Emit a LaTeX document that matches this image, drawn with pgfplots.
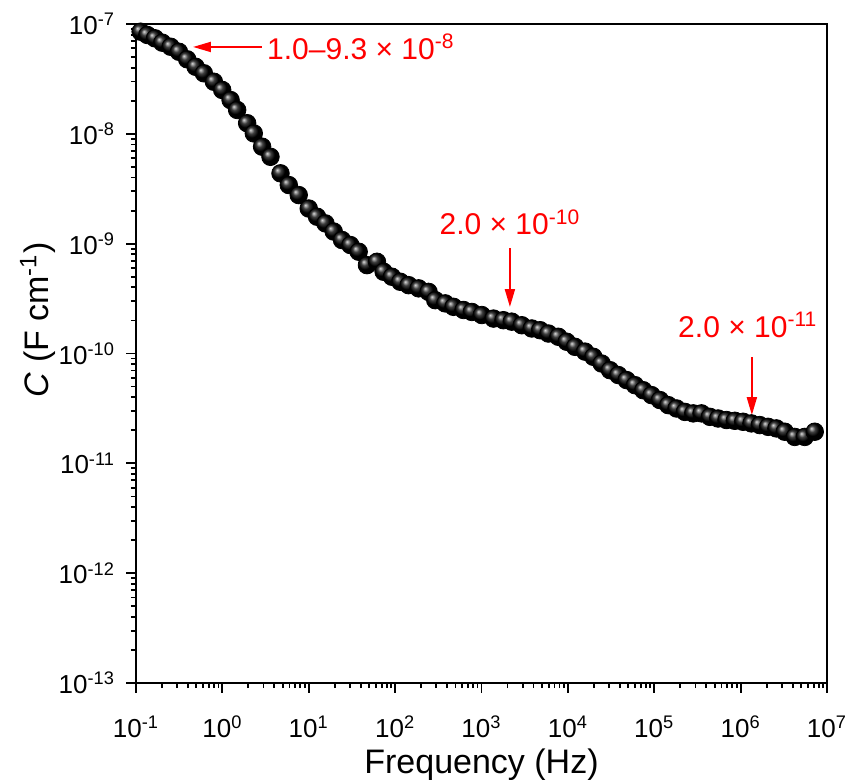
\documentclass[border=0pt]{standalone}
\usepackage{fontspec}
\setmainfont{Liberation Sans}
\usepackage{pgfplots}
\pgfplotsset{compat=1.18}
\usetikzlibrary{arrows.meta}

\begin{document}
\begin{tikzpicture}
\begin{axis}[
    scale only axis,
    width=345.5pt, height=329.5pt,
    xmode=log, ymode=log,
    xmin=0.1, xmax=1e7,
    ymin=1e-13, ymax=1e-7,
    xtick={1e-1,1,1e1,1e2,1e3,1e4,1e5,1e6,1e7},
    ytick={1e-13,1e-12,1e-11,1e-10,1e-9,1e-8,1e-7},
    xtick pos=bottom, ytick pos=left,
    tick align=outside,
    major tick length=5pt, minor tick length=2.6pt,
    every tick/.style={black, line width=0.9pt},
    axis line style={line width=1pt},
    log number format basis/.code 2 args={10\textsuperscript{\pgfmathprintnumber[fixed,precision=0,assume math mode=true]{#2}}},
    tick label style={font=\fontsize{13}{15}\selectfont},
    xticklabel style={yshift=-8pt},
    yticklabel style={xshift=-2pt},
    xlabel={Frequency (Hz)},
    ylabel={\textit{C} (F cm\textsuperscript{-1})},
    label style={font=\fontsize{17}{20}\selectfont},
    xlabel style={at={(axis description cs:0.5,-0.124)}, anchor=center},
    ylabel style={at={(axis description cs:-0.142,0.551)}, anchor=center},
    clip=false,
]
\addplot[only marks, mark=ball, mark size=4.4pt, mark options={ball color=black}] coordinates {
(0.1132,8.51e-8) (0.1352,7.95e-8) (0.1660,7.41e-8) (0.2014,6.76e-8) (0.2518,6.21e-8)
(0.3141,5.59e-8) (0.3917,4.77e-8) (0.4898,4.08e-8) (0.6109,3.56e-8) (0.7980,2.98e-8)
(0.9954,2.51e-8) (1.245,2.03e-8) (1.483,1.65e-8) (1.936,1.25e-8) (2.312,1.01e-8)
(2.884,7.64e-9) (3.606,6.18e-9) (4.710,4.37e-9) (5.875,3.42e-9) (7.656,2.77e-9)
(10.00,2.09e-9) (12.47,1.76e-9) (15.60,1.53e-9) (19.45,1.29e-9) (24.27,1.08e-9)
(30.34,9.72e-10) (37.84,8.45e-10) (47.21,6.38e-10) (61.66,6.84e-10) (73.62,5.55e-10)
(91.83,5.00e-10) (114.8,4.50e-10) (143.2,4.19e-10) (187.1,3.92e-10) (243.8,3.64e-10)
(291.7,3.06e-10) (380.2,2.86e-10) (474.2,2.66e-10) (619.4,2.49e-10) (772.7,2.39e-10)
(1007,2.24e-10) (1377,2.08e-10) (1795,2.01e-10) (2239,1.95e-10) (2924,1.81e-10)
(3819,1.69e-10) (4775,1.63e-10) (5957,1.52e-10) (7762,1.42e-10) (9683,1.28e-10)
(12106,1.15e-10) (15812,1.04e-10) (19724,9.33e-11) (24604,8.11e-11) (30761,7.05e-11)
(38371,6.37e-11) (47863,5.73e-11) (59841,5.15e-11) (74645,4.63e-11) (93111,4.18e-11)
(116413,3.77e-11) (145211,3.39e-11) (181134,3.16e-11) (226464,2.94e-11) (282488,2.85e-11)
(352371,2.85e-11) (440555,2.65e-11) (549541,2.56e-11) (685488,2.48e-11) (857038,2.44e-11)
(1.069e6,2.39e-11) (1.334e6,2.31e-11) (1.667e6,2.23e-11) (2.080e6,2.15e-11) (2.594e6,2.08e-11)
(3.243e6,1.94e-11) (4.236e6,1.74e-11) (5.521e6,1.74e-11) (7.211e6,1.94e-11)
};
% annotations
\draw[red, line width=1pt, -{Triangle[length=9pt,width=5pt]}] (axis cs:2.87,6.18e-8) -- (axis cs:0.457,6.18e-8);
\node[red, anchor=west, font=\fontsize{15}{18}\selectfont, inner sep=1pt] at (axis cs:3.1,6.18e-8) {1.0--9.3 × 10\textsuperscript{-8}};
\node[red, font=\fontsize{15}{18}\selectfont] at (axis cs:2133,1.57e-9) {2.0 × 10\textsuperscript{-10}};
\draw[red, line width=1pt, -{Triangle[length=9pt,width=5pt]}] (axis cs:2133,9.12e-10) -- (axis cs:2133,2.65e-10);
\node[red, font=\fontsize{15}{18}\selectfont] at (axis cs:1.21e6,1.82e-10) {2.0 × 10\textsuperscript{-11}};
\draw[red, line width=1pt, -{Triangle[length=9pt,width=5pt]}] (axis cs:1.35e6,9.27e-11) -- (axis cs:1.35e6,2.75e-11);
\end{axis}
\path (current axis.south west) +(-68pt,-48.5pt) coordinate (bl);
\path (current axis.north east) +(10.5pt,12pt) coordinate (tr);
\pgfresetboundingbox
\path[use as bounding box] (bl) rectangle (tr);
\end{tikzpicture}
\end{document}
